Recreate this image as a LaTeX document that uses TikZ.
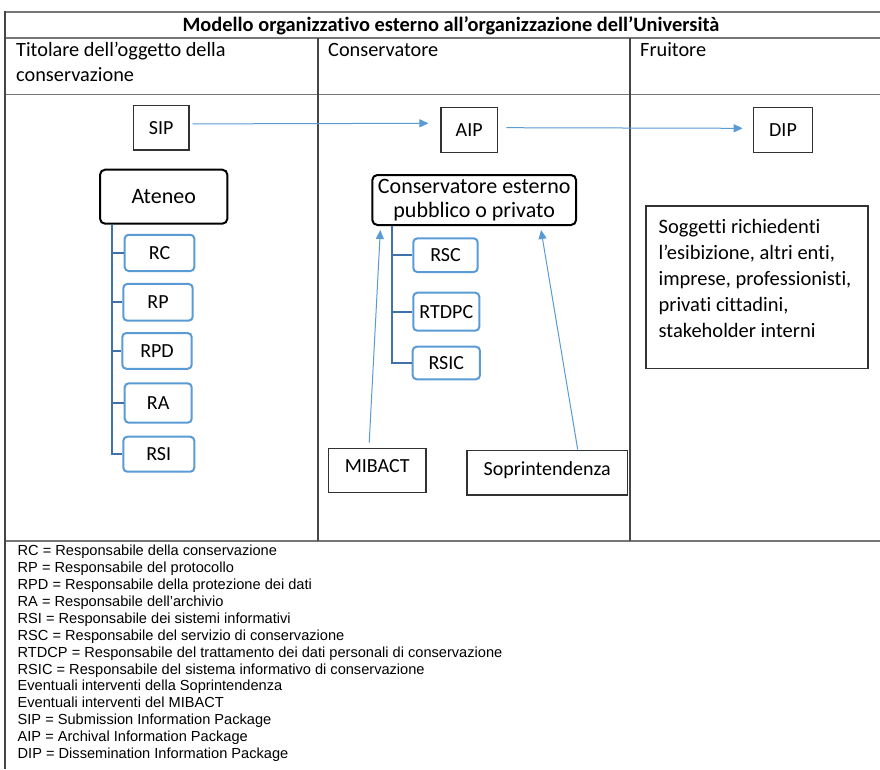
\documentclass[tikz,border=0pt]{standalone}
\usepackage{fontspec}
\setmainfont{Carlito}[Ligatures=CommonOff]
\newfontfamily\legendfont{Liberation Sans}
\usetikzlibrary{arrows.meta}
\definecolor{flowblue}{RGB}{91,155,213}
\definecolor{treeblue}{RGB}{65,113,170}
\definecolor{gridgray}{RGB}{118,118,118}
\definecolor{rulegray}{RGB}{70,70,70}
\definecolor{edgegray}{RGB}{50,50,50}
\begin{document}
\begin{tikzpicture}[x=1pt,y=-1pt,
  plainbox/.style={draw=edgegray, line width=1.2pt, inner sep=0pt, font=\fontsize{20}{24}\selectfont},
  bigbox/.style={draw=black, line width=2pt, rounded corners=5pt, inner sep=0pt, align=center, font=\fontsize{22}{24.4}\selectfont},
  rolebox/.style={draw=flowblue, line width=2pt, rounded corners=4pt, inner sep=0pt, font=\fontsize{20}{24}\selectfont},
  trunk/.style={draw=treeblue, line width=2pt},
  flow/.style={draw=flowblue, line width=1pt, -{Triangle[length=9pt,width=8pt]}},
  hrule/.style={draw=gridgray, line width=1.5pt},
  vrule/.style={draw=rulegray, line width=1.2pt},
  cell/.style={anchor=base west, inner sep=0pt, align=left, font=\fontsize{20.3}{25}\selectfont},
  ]
\useasboundingbox (0,0) rectangle (880,769);
\fill[white] (0,0) rectangle (880,769);

% table rules
\draw[hrule] (5,12) -- (880,12) (5,38) -- (880,38) (5,94.5) -- (880,94.5) (5,541) -- (880,541);
\draw[vrule] (5,11.2) -- (5,769) (318,38) -- (318,541) (630,38) -- (630,541);

% title and column headers (base anchor = baseline of the last line)
\node[anchor=base, inner sep=0pt, font=\bfseries\fontsize{20.4}{24}\selectfont] (title) at (451,31.5)
  {Modello organizzativo esterno all’organizzazione dell’Università};
\node[cell] (hdrA) at (16,81.5) {Titolare dell’oggetto della\\conservazione};
\node[cell] (hdrB) at (328,56.5) {Conservatore};
\node[cell] (hdrC) at (640,56.5) {Fruitore};

% information packages
\node[plainbox, minimum width=55.7, minimum height=44.3] (sip) at (161.2,127.9) {SIP};
\node[plainbox, minimum width=56.3, minimum height=45] (aip) at (469.2,129.8) {AIP};
\node[plainbox, minimum width=59.4, minimum height=45] (dip) at (783,129.8) {DIP};

% holder of the archive
\node[bigbox, minimum width=127.3, minimum height=54] (ateneo) at (163.7,196.7) {Ateneo};
\node[rolebox, minimum width=69.6, minimum height=36.3] (rc) at (159.5,252.9) {RC};
\node[rolebox, minimum width=69.4, minimum height=36.7] (rp) at (158,302.3) {RP};
\node[rolebox, minimum width=69.4, minimum height=35.7] (rpd) at (157,350.9) {RPD};
\node[rolebox, minimum width=67, minimum height=39.4] (ra) at (158.2,403) {RA};
\node[rolebox, minimum width=71, minimum height=35] (rsi) at (158.8,454.2) {RSI};

% external keeper
\node[bigbox, minimum width=203.7, minimum height=50] (cons) at (474.2,200) {Conservatore esterno\\pubblico o privato};
\node[rolebox, minimum width=64.4, minimum height=33.7] (rsc) at (445.5,255.2) {RSC};
\node[rolebox, minimum width=66, minimum height=38] (rtdpc) at (446.3,311.7) {RTDPC};
\node[rolebox, minimum width=67.3, minimum height=32.6] (rsic) at (446.3,363) {RSIC};

\node[plainbox, minimum width=97.7, minimum height=44.4] (mib) at (377.2,470.5) {\raisebox{4pt}[\height][\depth]{MIBACT}};
\node[plainbox, minimum width=160.3, minimum height=44.3] (sop) at (547.2,472.9) {\raisebox{3pt}[\height][\depth]{Soprintendenza}};

% users
\node[plainbox, minimum width=222, minimum height=162.3] (fru) at (757,287.2) {};
\node[anchor=base west, inner sep=0pt, align=left, font=\fontsize{20.5}{26}\selectfont] (frutext)
  at ([xshift=13pt,yshift=-132pt]fru.north west)
  {Soggetti richiedenti\\l’esibizione, altri enti,\\imprese, professionisti,\\privati cittadini,\\stakeholder interni};

% organisational trees
\coordinate (ta) at ([xshift=12.7pt]ateneo.south west);
\draw[trunk] (ta) |- (rc.west) (ta) |- (rp.west) (ta) |- (rpd.west) (ta) |- (ra.west) (ta) |- (rsi.west);
\coordinate (tc) at ([xshift=20.4pt]cons.south west);
\draw[trunk] (tc) |- (rsc.west) (tc) |- (rtdpc.west) (tc) |- (rsic.west);

% package flow and supervision
\draw[flow] ([xshift=3pt,yshift=4pt]sip.east) -- ([xshift=-12pt,yshift=6.5pt]aip.west);
\draw[flow] ([xshift=8.3pt,yshift=2.1pt]aip.east) -- ([xshift=-10pt,yshift=1.5pt]dip.west);
\draw[flow] ([xshift=-8pt,yshift=5pt]mib.north) -- ([xshift=9pt,yshift=-4pt]cons.south west);
\draw[flow] ([xshift=30.5pt,yshift=0.7pt]sop.north) -- ([xshift=-36pt,yshift=-4pt]cons.south east);

% legend
\node[anchor=base west, inner sep=0pt, align=left, font=\legendfont\fontsize{14.6}{16.9}\selectfont] (legend) at (17.5,758.5)
  {RC = Responsabile della conservazione\\
   RP = Responsabile del protocollo\\
   RPD = Responsabile della protezione dei dati\\
   RA = Responsabile dell’archivio\\
   RSI = Responsabile dei sistemi informativi\\
   RSC = Responsabile del servizio di conservazione\\
   RTDCP = Responsabile del trattamento dei dati personali di conservazione\\
   RSIC = Responsabile del sistema informativo di conservazione\\
   Eventuali interventi della Soprintendenza\\
   Eventuali interventi del MIBACT\\
   SIP = Submission Information Package\\
   AIP = Archival Information Package\\
   DIP = Dissemination Information Package};
\end{tikzpicture}
\end{document}
